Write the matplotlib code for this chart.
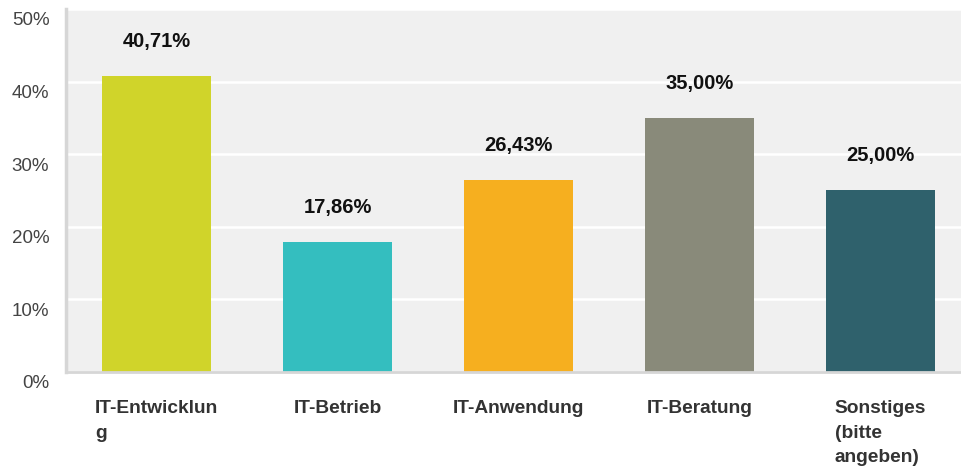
import matplotlib
matplotlib.use("Agg")
import matplotlib.pyplot as plt
from matplotlib.transforms import ScaledTranslation

categories = ["IT-Entwicklun\ng", "IT-Betrieb", "IT-Anwendung", "IT-Beratung",
              "Sonstiges\n(bitte\nangeben)"]
values = [40.71, 17.86, 26.43, 35.00, 25.00]
value_labels = ["40,71%", "17,86%", "26,43%", "35,00%", "25,00%"]
colors = ["#D0D42A", "#34BEBF", "#F6AF1F", "#898A7A", "#2F616C"]
yticks = [0, 10, 20, 30, 40, 50]

plt.rcParams["font.family"] = ["Liberation Sans", "DejaVu Sans"]

fig = plt.figure(figsize=(9.61, 4.68), dpi=100)
ax = fig.add_axes([66 / 961, 96 / 468, 895 / 961, 363 / 468])
ax.set_facecolor("#F0F0F0")

x = list(range(len(values)))
ax.bar(x, values, width=0.6, color=colors, zorder=2)

ax.set_xlim(-0.5, -0.5 + 895 / 181)
ax.set_ylim(0, 50)
ax.set_yticks(yticks)
ax.set_yticklabels([f"{t}%" for t in yticks], fontsize=13.5, color="#444444")
ax.tick_params(axis="y", length=0, pad=12)
ax.set_xticks([])
ax.grid(axis="y", color="white", linewidth=1.8, zorder=1)

for s in ["top", "right"]:
    ax.spines[s].set_visible(False)
ax.spines["left"].set_color("#D6D6D6")
ax.spines["left"].set_linewidth(2.5)
ax.spines["bottom"].set_color("#D6D6D6")
ax.spines["bottom"].set_linewidth(2)

shift = ScaledTranslation(0, -10 / 100, fig.dpi_scale_trans)
for lab in ax.get_yticklabels():
    lab.set_transform(lab.get_transform() + shift)

for xi, v, lab in zip(x, values, value_labels):
    ax.annotate(lab, (xi, v), xytext=(0, 25), textcoords="offset points",
                ha="center", va="center", fontsize=14.5, fontweight="bold",
                color="#111111")

for xi, cat in zip(x, categories):
    ax.annotate(cat, (xi, 0), xycoords=ax.get_xaxis_transform(),
                xytext=(0, -20), textcoords="offset points",
                ha="center", va="top", multialignment="left",
                fontsize=13.8, fontweight="bold", color="#333333",
                linespacing=1.6, annotation_clip=False)

fig.savefig("out.png", dpi=100)
